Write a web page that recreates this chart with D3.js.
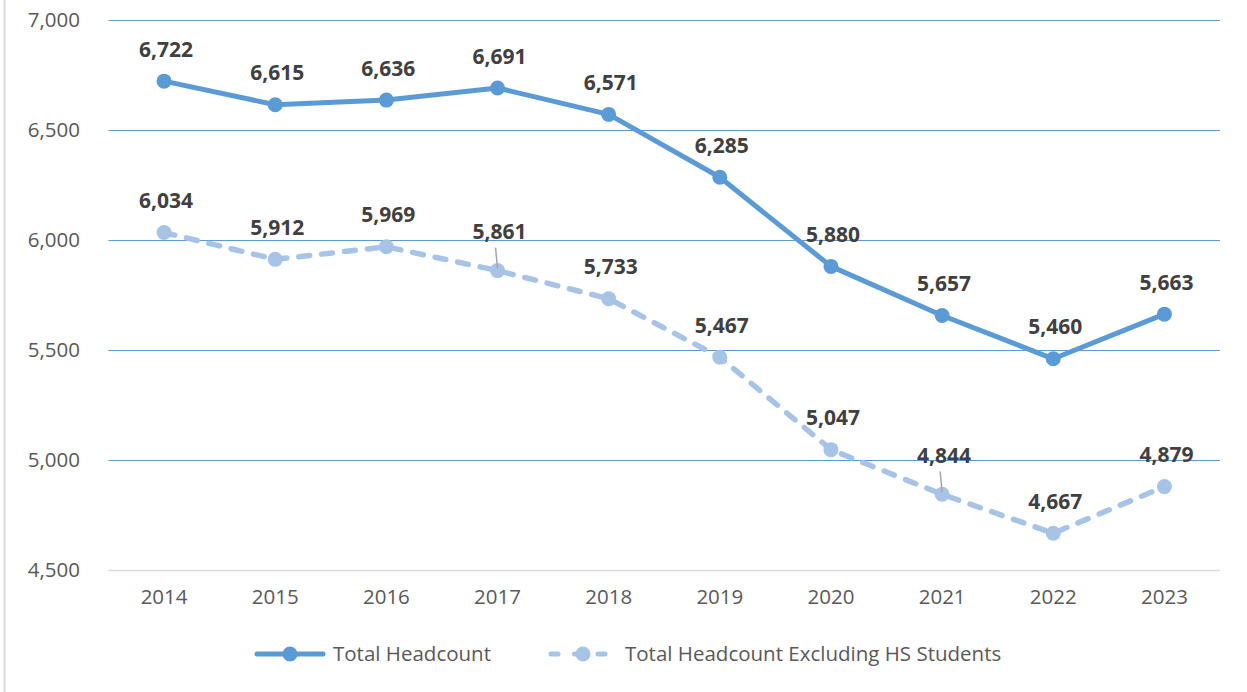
<!DOCTYPE html>
<html>
<head>
<meta charset="utf-8">
<script src="https://cdn.jsdelivr.net/npm/d3@7"></script>
<style>
  html, body { margin: 0; padding: 0; background: #fff; }
  svg { display: block; }
  text { font-family: "Open Sans", "Noto Sans", sans-serif; }
</style>
</head>
<body>
<svg id="chart" width="1247" height="692"></svg>
<script>
// ---- data ----
const years = ["2014","2015","2016","2017","2018","2019","2020","2021","2022","2023"];
const totalHeadcount = [6722, 6615, 6636, 6691, 6571, 6285, 5880, 5657, 5460, 5663];
const excludingHS = [6034, 5912, 5969, 5861, 5733, 5467, 5047, 4844, 4667, 4879];
const yTicks = [4500, 5000, 5500, 6000, 6500, 7000];
const seriesNames = ["Total Headcount", "Total Headcount Excluding HS Students"];
// labels that were moved up with a leader line (index into excludingHS)
const excludingLeaderIdx = [3, 7];

// ---- layout ----
const svg = d3.select("#chart");
const plot = { left: 108.5, right: 1220, top: 20, bottom: 570 };
const colTotal = "#5B9BD5";
const colExcl = "#A7C3E6";

const x = d3.scaleBand().domain(years).range([plot.left, plot.right]).padding(0);
const xc = d => x(d) + x.bandwidth() / 2;
const y = d3.scaleLinear().domain([4500, 7000]).range([plot.bottom, plot.top]);
const fmt = d3.format(",");

// chart border (left edge visible)
svg.append("line")
  .attr("x1", 4.5).attr("x2", 4.5).attr("y1", 0).attr("y2", 692)
  .attr("stroke", "#d9d9d9").attr("stroke-width", 2);

// gridlines
svg.append("g").selectAll("line").data(yTicks).join("line")
  .attr("x1", plot.left).attr("x2", plot.right)
  .attr("y1", d => Math.round(y(d)) + 0.5).attr("y2", d => Math.round(y(d)) + 0.5)
  .attr("stroke", d => d === 4500 ? "#d9d9d9" : colTotal)
  .attr("stroke-width", d => d === 4500 ? 1.5 : 1.2);

// y axis labels
const yAxis = d3.axisLeft(y).tickValues(yTicks).tickFormat(fmt).tickSize(0).tickPadding(0);
const gy = svg.append("g").attr("transform", "translate(80,0)").call(yAxis);
gy.select(".domain").remove();
gy.selectAll("text")
  .attr("fill", "#595959").style("font-size", "20.5px")
  .style("font-family", "'Open Sans', sans-serif");

// x axis labels
const xAxis = d3.axisBottom(x).tickSize(0).tickPadding(0);
const gx = svg.append("g").attr("transform", `translate(0,${plot.bottom + 19})`).call(xAxis);
gx.select(".domain").remove();
gx.selectAll("text")
  .attr("fill", "#595959").style("font-size", "20.5px")
  .style("font-family", "'Open Sans', sans-serif");

// lines
const line = d3.line().x((d, i) => xc(years[i])).y(d => y(d));

svg.append("path").datum(excludingHS)
  .attr("d", line).attr("fill", "none")
  .attr("stroke", colExcl).attr("stroke-width", 5.5)
  .attr("stroke-dasharray", "11,12").attr("stroke-linecap", "round")
  .attr("stroke-linejoin", "round");

svg.append("path").datum(totalHeadcount)
  .attr("d", line).attr("fill", "none")
  .attr("stroke", colTotal).attr("stroke-width", 5)
  .attr("stroke-linejoin", "round");

// markers
svg.append("g").selectAll("circle").data(excludingHS).join("circle")
  .attr("cx", (d, i) => xc(years[i])).attr("cy", d => y(d)).attr("r", 7.5)
  .attr("fill", colExcl);
svg.append("g").selectAll("circle").data(totalHeadcount).join("circle")
  .attr("cx", (d, i) => xc(years[i])).attr("cy", d => y(d)).attr("r", 7.5)
  .attr("fill", colTotal);

// leader lines
svg.append("g").selectAll("line").data(excludingLeaderIdx).join("line")
  .attr("x1", i => xc(years[i]) - 2).attr("x2", i => xc(years[i]))
  .attr("y1", i => y(excludingHS[i]) - 23).attr("y2", i => y(excludingHS[i]) - 2)
  .attr("stroke", "#a6a6a6").attr("stroke-width", 1.5);

// data labels
function labels(data, lifted) {
  svg.append("g").selectAll("text").data(data).join("text")
    .attr("x", (d, i) => xc(years[i]) + 2)
    .attr("y", (d, i) => y(d) - (lifted.includes(i) ? 39 : 32))
    .attr("dy", "0.36em")
    .attr("text-anchor", "middle")
    .attr("fill", "#404040")
    .style("font-size", "21px").style("font-weight", "700")
    .text(d => fmt(d));
}
labels(totalHeadcount, []);
labels(excludingHS, excludingLeaderIdx);

// legend
const legY = 654;
const leg = svg.append("g");
const legItems = [
  { name: seriesNames[0], x0: 255, color: colTotal, dash: null, textX: 333 },
  { name: seriesNames[1], x0: 548, color: colExcl, dash: "8,14", textX: 625 }
];
legItems.forEach(it => {
  const l = leg.append("line")
    .attr("x1", it.x0 + 2).attr("x2", it.x0 + 68).attr("y1", legY).attr("y2", legY)
    .attr("stroke", it.color).attr("stroke-width", 5).attr("stroke-linecap", "round");
  if (it.dash) l.attr("stroke-dasharray", "7,16.5").attr("x1", it.x0 + 3);
  leg.append("circle").attr("cx", it.x0 + 35).attr("cy", legY).attr("r", 7.5).attr("fill", it.color);
  leg.append("text").attr("x", it.textX).attr("y", legY).attr("dy", "0.36em")
    .attr("fill", "#595959").style("font-size", "20.5px").text(it.name);
});
</script>
</body>
</html>
